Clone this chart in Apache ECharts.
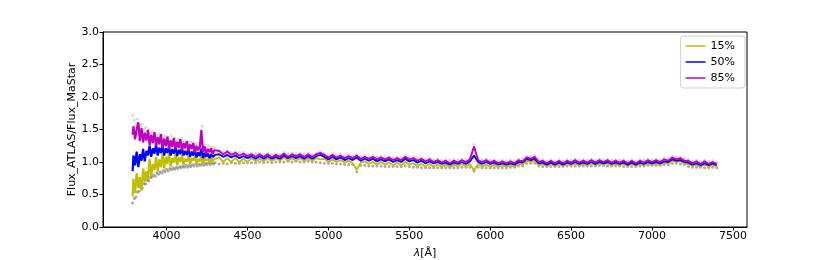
<!DOCTYPE html>
<html><head><meta charset="utf-8">
<script src="https://cdn.jsdelivr.net/npm/echarts@6/dist/echarts.min.js"></script>
<style>html,body{margin:0;padding:0;background:#fff}#c{width:830px;height:260px}</style>
</head><body><div id="c"></div>
<script>
const seriesNames = ['15%', '50%', '85%'];
const xTicks = [4000, 4500, 5000, 5500, 6000, 6500, 7000, 7500];
const yTicks = [0.0, 0.5, 1.0, 1.5, 2.0, 2.5, 3.0];

const waveA = [3790,3800,3810,3820,3830,3840,3850,3860,3870,3880,3890,3900,3910,3920,3930,3940,3950,3960,3970,3980,3990,
  4000,4010,4020,4030,4040,4050,4060,4070,4080,4090,4100,4110,4120,4130,4140,4150,4160,4170,4180,4190,4200,
  4210,4220,4230,4240,4250,4260,4270,4280,4290,4300];
const waveB = [4325,4350,4375,4400, 4425,4450,4475,4500, 4525,4550,4575,4600, 4625,4650,4675,4700,
  4725,4750,4775,4800, 4825,4850,4875,4900, 4925,4950,4975,5000, 5025,5050,5075,5100,
  5125,5150,5175,5200, 5225,5250,5275,5300, 5325,5350,5375,5400, 5425,5450,5475,5500,
  5525,5550,5575,5600, 5625,5650,5675,5700, 5725,5750,5775,5800, 5825,5850,5875,5900,
  5925,5950,5975,6000, 6025,6050,6075,6100, 6125,6150,6175,6200, 6225,6250,6275,6300,
  6325,6350,6375,6400, 6425,6450,6475,6500, 6525,6550,6575,6600, 6625,6650,6675,6700,
  6725,6750,6775,6800, 6825,6850,6875,6900, 6925,6950,6975,7000, 7025,7050,7075,7100,
  7125,7150,7175,7200, 7225,7250,7275,7300, 7325,7350,7375,7400];

const p15A = [0.47,0.74,0.52,0.83,0.60,0.77,0.56,0.90,0.70,0.86,0.73,1.05,0.78,0.97,0.88,1.08,0.85,1.04,0.92,1.13,0.90,
  1.08,0.97,1.14,0.93,1.06,0.99,1.12,0.95,1.07,1.00,1.11,0.96,1.05,1.01,1.10,0.97,1.06,1.02,1.09,0.98,1.05,
  1.01,1.10,0.96,1.07,1.02,1.05,0.99,1.07,1.01,1.05];
const p15B = [1.07,1.00,1.06,1.00, 1.06,1.00,1.05,1.00, 1.06,1.01,1.05,1.01, 1.06,1.01,1.06,1.02,
  1.07,1.02,1.06,1.02, 1.06,1.02,1.06,1.02, 1.06,1.04,1.05,1.00, 1.04,1.00,1.03,0.99,
  1.02,0.98,0.88,0.99, 1.01,0.97,1.00,0.96, 1.00,0.96,0.99,0.95, 0.99,0.95,1.00,0.96,
  0.98,0.94,0.97,0.93, 0.97,0.93,0.96,0.93, 0.96,0.92,0.96,0.93, 0.97,0.93,0.97,0.87,
  0.97,0.93,0.96,0.93, 0.96,0.92,0.95,0.93, 0.95,0.93,0.97,0.96, 1.02,1.00,1.02,0.95,
  0.97,0.94,0.97,0.94, 0.97,0.94,0.97,0.95, 0.98,0.95,0.97,0.95, 0.98,0.95,0.98,0.96,
  0.98,0.95,0.97,0.95, 0.97,0.94,0.97,0.94, 0.97,0.95,0.98,0.96, 0.98,0.96,0.99,0.98,
  1.02,1.00,1.01,0.98, 0.97,0.94,0.96,0.93, 0.96,0.93,0.96,0.93];

const p50A = [0.86,1.10,0.95,1.16,0.92,1.12,1.02,1.20,1.01,1.17,1.10,1.25,1.08,1.21,1.13,1.27,1.10,1.22,1.14,1.25,1.10,
  1.21,1.14,1.24,1.10,1.20,1.13,1.23,1.09,1.19,1.12,1.22,1.10,1.17,1.11,1.20,1.08,1.16,1.10,1.19,1.07,1.15,
  1.09,1.21,1.06,1.14,1.08,1.13,1.06,1.12,1.08,1.11];
const p50B = [1.12,1.08,1.11,1.07, 1.10,1.06,1.09,1.06, 1.09,1.05,1.09,1.05, 1.09,1.05,1.08,1.05,
  1.10,1.06,1.09,1.06, 1.09,1.05,1.09,1.05, 1.09,1.11,1.08,1.04, 1.08,1.04,1.07,1.03,
  1.06,1.03,1.07,1.02, 1.05,1.02,1.05,1.01, 1.04,1.01,1.04,1.00, 1.03,1.00,1.05,1.01,
  1.03,0.99,1.02,0.98, 1.01,0.98,1.00,0.97, 0.99,0.96,0.99,0.97, 1.00,0.97,1.01,1.10,
  1.00,0.97,1.00,0.97, 0.99,0.96,0.98,0.96, 0.98,0.96,1.00,0.99, 1.05,1.03,1.05,0.98,
  0.99,0.96,0.99,0.96, 0.99,0.96,0.99,0.97, 1.00,0.97,0.99,0.97, 1.00,0.97,1.00,0.98,
  1.00,0.97,0.99,0.97, 0.99,0.96,0.99,0.96, 0.99,0.97,1.00,0.98, 1.00,0.98,1.01,1.00,
  1.04,1.02,1.03,1.00, 0.99,0.96,0.98,0.95, 0.98,0.95,0.98,0.95];

const p85A = [1.42,1.55,1.35,1.50,1.61,1.32,1.52,1.30,1.45,1.33,1.49,1.26,1.42,1.29,1.46,1.24,1.38,1.27,1.43,1.21,1.36,
  1.24,1.39,1.20,1.33,1.23,1.37,1.19,1.31,1.22,1.35,1.18,1.29,1.21,1.32,1.17,1.27,1.20,1.29,1.15,1.25,1.18,
  1.23,1.49,1.15,1.24,1.13,1.20,1.15,1.21,1.12,1.18];
const p85B = [1.17,1.12,1.16,1.11, 1.14,1.10,1.13,1.09, 1.12,1.08,1.12,1.08, 1.12,1.07,1.11,1.08,
  1.13,1.08,1.12,1.09, 1.12,1.08,1.12,1.08, 1.12,1.14,1.11,1.07, 1.11,1.07,1.10,1.06,
  1.09,1.06,1.10,1.05, 1.08,1.05,1.08,1.04, 1.07,1.04,1.07,1.03, 1.06,1.03,1.08,1.04,
  1.06,1.02,1.05,1.01, 1.04,1.00,1.03,0.99, 1.02,0.98,1.02,0.99, 1.03,1.00,1.04,1.24,
  1.03,1.00,1.03,0.99, 1.02,0.98,1.01,0.98, 1.01,0.98,1.03,1.01, 1.07,1.05,1.08,1.00,
  1.02,0.98,1.02,0.98, 1.02,0.98,1.02,0.99, 1.03,0.99,1.02,0.99, 1.03,0.99,1.03,1.00,
  1.03,0.99,1.02,0.99, 1.02,0.98,1.02,0.98, 1.02,0.99,1.03,1.00, 1.03,1.00,1.04,1.02,
  1.07,1.04,1.06,1.02, 1.02,0.98,1.01,0.97, 1.01,0.97,1.00,0.97];

const grayLoA = [0.37,0.44,0.46,0.54,0.55,0.61,0.60,0.67,0.66,0.72,0.71,0.76,0.77,0.80,0.78,0.83,0.81,0.85,0.83,0.87,0.85,
  0.89,0.86,0.90,0.88,0.91,0.89,0.92,0.90,0.93,0.91,0.94,0.92,0.95,0.92,0.95,0.93,0.96,0.94,0.97,0.94,0.97,
  0.95,0.98,0.95,0.98,0.96,0.99,0.96,0.99,0.97,0.99];
const grayLoB = [0.97,0.98,0.97,0.99, 0.98,0.98,0.99,0.99, 0.99,0.99,1.00,0.99, 1.00,0.99,1.00,1.00,
  1.00,1.01,1.00,1.01, 1.00,1.00,1.01,1.00, 1.00,0.99,0.98,0.98, 0.98,0.97,0.97,0.96,
  0.96,0.96,0.85,0.95, 0.95,0.94,0.94,0.94, 0.94,0.93,0.93,0.93, 0.93,0.93,0.94,0.93,
  0.92,0.92,0.91,0.91, 0.91,0.91,0.91,0.91, 0.91,0.91,0.91,0.91, 0.92,0.92,0.92,0.86,
  0.92,0.91,0.91,0.91, 0.91,0.91,0.91,0.91, 0.92,0.92,0.94,0.94, 0.98,0.98,0.98,0.94,
  0.93,0.93,0.93,0.93, 0.93,0.93,0.94,0.94, 0.94,0.94,0.94,0.94, 0.94,0.94,0.95,0.95,
  0.94,0.94,0.94,0.94, 0.93,0.93,0.93,0.93, 0.94,0.94,0.95,0.95, 0.95,0.95,0.96,0.96,
  0.98,0.98,0.97,0.96, 0.93,0.92,0.92,0.92, 0.91,0.91,0.92,0.91];
const grayHiA = [1.72,1.65,1.60,1.66,1.58,1.55,1.58,1.50,1.53,1.48,1.50,1.45,1.47,1.42,1.45,1.40,1.43,1.38,1.42,1.36,1.40,
  1.35,1.38,1.34,1.40,1.33,1.37,1.32,1.35,1.31,1.36,1.30,1.33,1.29,1.32,1.28,1.31,1.27,1.30,1.26,1.29,1.25,
  1.27,1.55,1.25,1.26,1.22,1.25,1.21,1.23,1.20,1.22];
const grayHiB = [1.19,1.17,1.18,1.15, 1.16,1.15,1.15,1.13, 1.14,1.13,1.14,1.12, 1.14,1.12,1.13,1.12,
  1.15,1.13,1.14,1.13, 1.14,1.13,1.14,1.12, 1.14,1.16,1.13,1.11, 1.13,1.11,1.12,1.10,
  1.11,1.10,1.12,1.09, 1.10,1.09,1.10,1.08, 1.09,1.08,1.09,1.07, 1.08,1.07,1.10,1.08,
  1.08,1.06,1.07,1.05, 1.06,1.04,1.05,1.03, 1.04,1.03,1.04,1.03, 1.05,1.04,1.06,1.27,
  1.05,1.04,1.05,1.03, 1.04,1.02,1.03,1.02, 1.03,1.02,1.05,1.05, 1.09,1.09,1.10,1.04,
  1.04,1.02,1.04,1.02, 1.04,1.02,1.04,1.03, 1.05,1.03,1.04,1.03, 1.05,1.03,1.05,1.04,
  1.05,1.03,1.04,1.03, 1.04,1.02,1.04,1.02, 1.04,1.03,1.05,1.04, 1.05,1.04,1.06,1.06,
  1.09,1.08,1.08,1.06, 1.04,1.02,1.03,1.01, 1.03,1.01,1.02,1.00];

const wave = waveA.concat(waveB);
const nA = waveA.length;
const pairs = (ys) => wave.map((w, i) => [w, ys[i]]);
const p15 = pairs(p15A.concat(p15B));
const p50 = pairs(p50A.concat(p50B));
const p85 = pairs(p85A.concat(p85B));
const grayLo = pairs(grayLoA.concat(grayLoB));
const grayHi = pairs(grayHiA.concat(grayHiB));

const colors = ['#bfbf00', '#0000ff', '#bf00bf'];
const lines = [p15, p50, p85];
const lineSeries = [];
lines.forEach((d, k) => {
  lineSeries.push({type: 'line', name: seriesNames[k], data: d.slice(0, nA), step: 'middle', showSymbol: false, symbol: 'none',
    lineStyle: {color: colors[k], width: 2.2}, itemStyle: {color: colors[k]}, z: 2 + k});
  lineSeries.push({type: 'line', name: seriesNames[k], data: d.slice(nA - 1), showSymbol: false, symbol: 'none',
    lineStyle: {color: colors[k], width: 1.9}, itemStyle: {color: colors[k]}, z: 2 + k});
});

const FONT = 'DejaVu Sans';
const chart = echarts.init(document.getElementById('c'), null, {renderer: 'canvas'});
chart.setOption({
  animation: false,
  backgroundColor: '#fff',
  grid: {left: 103, right: 83, top: 32, bottom: 33, outerBoundsMode: 'none', containLabel: false,
    show: true, borderColor: '#000', borderWidth: 1, backgroundColor: 'transparent'},
  legend: {
    data: seriesNames, orient: 'vertical', right: 85, top: 36,
    icon: 'rect', itemWidth: 20, itemHeight: 1.5, itemGap: 2, itemTextGap: 9,
    padding: [3, 10, 3, 5], borderColor: '#d0d0d0', borderWidth: 1, borderRadius: 3,
    backgroundColor: 'rgba(255,255,255,0.8)',
    textStyle: {fontFamily: FONT, fontSize: 11, color: '#000', lineHeight: 14}
  },
  xAxis: {
    type: 'value', min: 3607, max: 7587,
    name: '{i|λ}[Å]', nameLocation: 'middle', nameGap: 21, nameMoveOverlap: false,
    nameTextStyle: {fontFamily: FONT, fontSize: 11, color: '#000', rich: {i: {fontFamily: FONT, fontStyle: 'italic', fontSize: 11, color: '#000'}}},
    axisLine: {show: true, lineStyle: {color: '#000', width: 1}},
    axisTick: {show: true, length: 3.5, inside: false, lineStyle: {color: '#000'}, customValues: xTicks},
    axisLabel: {fontFamily: FONT, fontSize: 11, color: '#000', margin: 4, customValues: xTicks, formatter: v => String(v)},
    splitLine: {show: false}
  },
  yAxis: {
    type: 'value', min: 0, max: 3, interval: 0.5,
    name: 'Flux_ATLAS/Flux_MaStar', nameLocation: 'middle', nameGap: 25, nameMoveOverlap: false,
    nameTextStyle: {fontFamily: FONT, fontSize: 11, color: '#000'},
    axisLine: {show: true, lineStyle: {color: '#000', width: 1}},
    axisTick: {show: true, length: 3.5, lineStyle: {color: '#000'}},
    axisLabel: {fontFamily: FONT, fontSize: 11, color: '#000', margin: 4, formatter: v => v.toFixed(1)},
    splitLine: {show: false}
  },
  series: [
    {type: 'scatter', name: 'gray-lo', data: grayLo, symbolSize: 3, itemStyle: {color: 'rgba(60,40,40,0.5)'}, silent: true, z: 1},
    {type: 'scatter', name: 'gray-hi', data: grayHi, symbolSize: 3, itemStyle: {color: 'rgba(110,100,100,0.3)'}, silent: true, z: 1}
  ].concat(lineSeries)
});
</script></body></html>
